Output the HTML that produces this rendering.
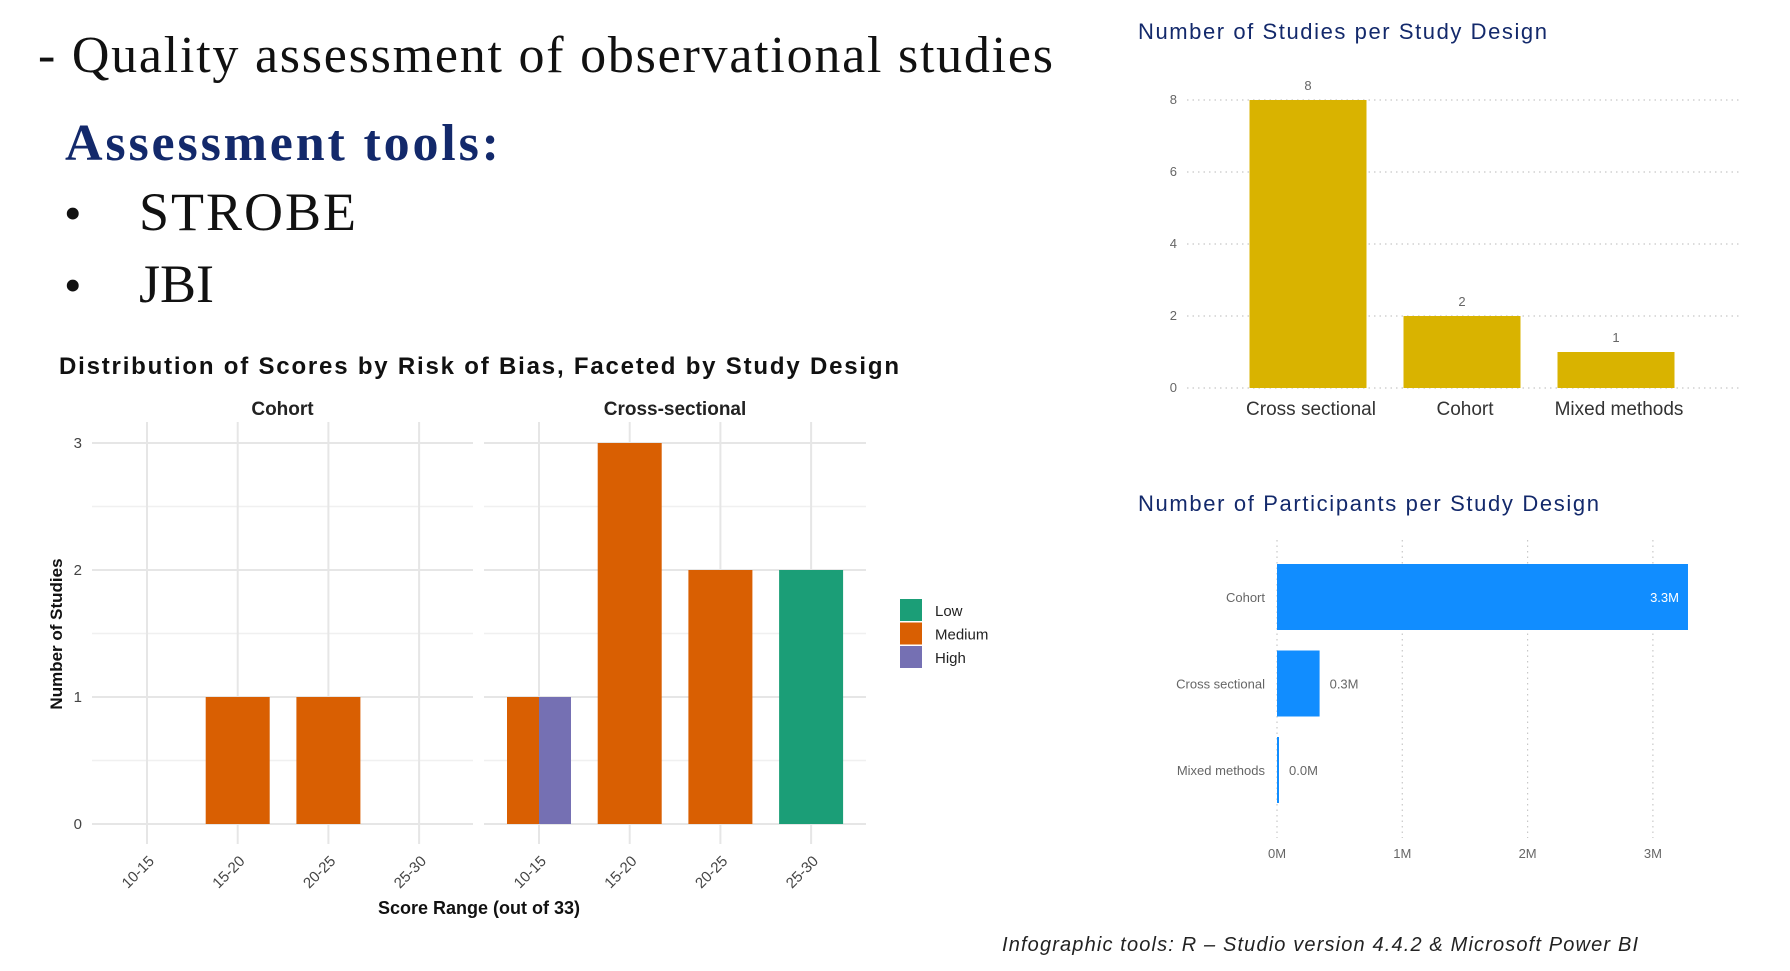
<!DOCTYPE html>
<html><head><meta charset="utf-8">
<style>
html,body{margin:0;padding:0;background:#fff;}
svg{display:block;}
.serif{font-family:"Liberation Serif",serif;}
.sans{font-family:"Liberation Sans",sans-serif;}
</style></head>
<body>
<svg id="root" width="1790" height="971" viewBox="0 0 1790 971" xmlns="http://www.w3.org/2000/svg">
  <text class="serif" x="38" y="72" font-size="52" fill="#111" textLength="1015">- Quality assessment of observational studies</text>
  <text class="serif" x="65" y="160" font-size="52" font-weight="bold" fill="#13296b" textLength="434">Assessment tools:</text>
  <text class="serif" x="64" y="230" font-size="50" fill="#111">•</text>
  <text class="serif" x="139" y="230" font-size="54" fill="#111" textLength="217">STROBE</text>
  <text class="serif" x="64" y="302" font-size="50" fill="#111">•</text>
  <text class="serif" x="139" y="302" font-size="54" fill="#111">JBI</text>

  <g id="facet"></g>
  <g id="studies"></g>
  <g id="parts"></g>

  <text class="sans" x="1002" y="951" font-size="20" font-style="italic" fill="#222" textLength="636">Infographic  tools: R – Studio version 4.4.2 &amp;  Microsoft Power BI</text>
</svg>
<script>
// ---- Facet chart data ----
const facetPanels = ["Cohort", "Cross-sectional"];
const scoreRanges = ["10-15", "15-20", "20-25", "25-30"];
const cohortMedium = [0, 1, 1, 0];
const crossLow = [0, 0, 0, 2];
const crossMedium = [1, 3, 2, 0];
const crossHigh = [1, 0, 0, 0];
const facetYTicks = [0, 1, 2, 3];
const riskLevels = ["Low", "Medium", "High"];

// ---- Studies per design ----
const designCats = ["Cross sectional", "Cohort", "Mixed methods"];
const studyCounts = [8, 2, 1];
const studyYTicks = [0, 2, 4, 6, 8];

// ---- Participants per design (millions) ----
const partCats = ["Cohort", "Cross sectional", "Mixed methods"];
const partValues = [3.28, 0.34, 0.01];
const partLabels = ["3.3M", "0.3M", "0.0M"];
const partXTicks = [0, 1, 2, 3];

const NS = "http://www.w3.org/2000/svg";
function mk(parent, tag, attrs, text) {
  const e = document.createElementNS(NS, tag);
  for (const k in attrs) e.setAttribute(k, attrs[k]);
  if (text !== undefined) e.textContent = text;
  parent.appendChild(e);
  return e;
}
const colors = {Low: "#1b9e77", Medium: "#d95f02", High: "#7570b3"};

// ---------- Facet chart ----------
(function () {
  const g = document.getElementById("facet");
  const t = mk(g, "text", {x: 59, y: 374, "font-size": 24, "font-weight": "bold", fill: "#111", class: "sans", textLength: 840}, "Distribution of Scores by Risk of Bias, Faceted by Study Design");
  
  
  const panelX = [[92, 473], [484, 866]];
  const y0 = 824, unit = 127, gridTop = 422;
  const yS = v => y0 - v * unit;
  const step = 90.7, bw = 64;
  panelX.forEach((px, p) => {
    const xC = i => px[0] + 55 + i * step;
    for (let v = 0.5; v <= 3; v += 1) {
      const l = mk(g, "line", {x1: px[0], x2: px[1], y1: yS(v), y2: yS(v), stroke: "#f0f0f0", "stroke-width": 1.5});
      
      
    }
    facetYTicks.forEach(v => {
      const l = mk(g, "line", {x1: px[0], x2: px[1], y1: yS(v), y2: yS(v), stroke: "#e6e6e6", "stroke-width": 2});
      
      
    });
    scoreRanges.forEach((r, i) => {
      const l = mk(g, "line", {x1: xC(i), x2: xC(i), y1: gridTop, y2: y0 + 20, stroke: "#e6e6e6", "stroke-width": 2});
      
      
      const tx = mk(g, "text", {x: xC(i) + 8, y: 862, "font-size": 15, fill: "#444", class: "sans", "text-anchor": "end", transform: `rotate(-45 ${xC(i) + 8} 862)`}, r);
      
      
    });
    const st = mk(g, "text", {x: (px[0] + px[1]) / 2, y: 415, "font-size": 19, "font-weight": "bold", fill: "#222", class: "sans", "text-anchor": "middle"}, facetPanels[p]);
    
    
    function bar(x, w, v, c, name) {
      if (!v) return;
      const b = mk(g, "rect", {x: x, y: yS(v), width: w, height: v * unit, fill: c});
      
      
    }
    scoreRanges.forEach((r, i) => {
      if (p === 0) {
        bar(xC(i) - bw / 2, bw, cohortMedium[i], colors.Medium, 'bar-cohort-medium');
      } else {
        const groups = [["Low", crossLow[i]], ["Medium", crossMedium[i]], ["High", crossHigh[i]]].filter(d => d[1] > 0);
        const w = bw / groups.length;
        groups.forEach((d, k) => bar(xC(i) - bw / 2 + k * w, w, d[1], colors[d[0]], 'bar-cross-' + d[0].toLowerCase()));
      }
    });
  });
  facetYTicks.forEach(v => {
    const tx = mk(g, "text", {x: 82, y: yS(v) + 5, "font-size": 15, fill: "#444", class: "sans", "text-anchor": "end"}, v);
    
    
  });
  const yt = mk(g, "text", {x: 62, y: 634, "font-size": 17, "font-weight": "bold", fill: "#111", class: "sans", "text-anchor": "middle", transform: "rotate(-90 62 634)"}, "Number of Studies");
  
  
  const xt = mk(g, "text", {x: 479, y: 914, "font-size": 18, "font-weight": "bold", fill: "#111", class: "sans", "text-anchor": "middle"}, "Score Range (out of 33)");
  
  
  riskLevels.forEach((lv, i) => {
    const r = mk(g, "rect", {x: 900, y: 599 + i * 23.5, width: 22, height: 22, fill: colors[lv]});
    
    
    const tx = mk(g, "text", {x: 935, y: 616 + i * 23.5, "font-size": 15, fill: "#222", class: "sans"}, lv);
    
    
  });
})();

// ---------- Studies per design ----------
(function () {
  const g = document.getElementById("studies");
  const t = mk(g, "text", {x: 1138, y: 39, "font-size": 22, fill: "#13296b", class: "sans", textLength: 409}, "Number of Studies per Study Design");
  
  
  const y0 = 388, unit = 36, x0 = 1187, x1 = 1740;
  const yS = v => y0 - v * unit;
  studyYTicks.forEach(v => {
    const l = mk(g, "line", {x1: x0, x2: x1, y1: yS(v), y2: yS(v), stroke: "#c8c8c8", "stroke-width": 1.2, "stroke-dasharray": "1.5 4"});
    
    
    const tx = mk(g, "text", {x: 1177, y: yS(v) + 4, "font-size": 13, fill: "#666", class: "sans", "text-anchor": "end"}, v);
    
    
  });
  const step = 154, bw = 117, c0 = 1308;
  designCats.forEach((c, i) => {
    const cx = c0 + i * step;
    const b = mk(g, "rect", {x: cx - bw / 2, y: yS(studyCounts[i]), width: bw, height: studyCounts[i] * unit, fill: "#d9b300"});
    
    
    const vl = mk(g, "text", {x: cx, y: yS(studyCounts[i]) - 10, "font-size": 13, fill: "#666", class: "sans", "text-anchor": "middle"}, studyCounts[i]);
    
    
    const cl = mk(g, "text", {x: cx + 3, y: 415, "font-size": 19, fill: "#333", class: "sans", "text-anchor": "middle"}, c);
    
    
  });
})();

// ---------- Participants per design ----------
(function () {
  const g = document.getElementById("parts");
  const t = mk(g, "text", {x: 1138, y: 511, "font-size": 22, fill: "#13296b", class: "sans", textLength: 461}, "Number of Participants  per Study Design");
  
  
  const x0 = 1277, unit = 125.3;
  const xS = v => x0 + v * unit;
  partXTicks.forEach(v => {
    const l = mk(g, "line", {x1: xS(v), x2: xS(v), y1: 540, y2: 838, stroke: "#c8c8c8", "stroke-width": 1.2, "stroke-dasharray": "1.5 4"});
    
    
    const tx = mk(g, "text", {x: xS(v), y: 858, "font-size": 13, fill: "#666", class: "sans", "text-anchor": "middle"}, v + "M");
    
    
  });
  const bandTop = 564, band = 86.5, bh = 66;
  partCats.forEach((c, i) => {
    const y = bandTop + i * band;
    const w = Math.max(2, partValues[i] * unit);
    const b = mk(g, "rect", {x: x0, y: y, width: w, height: bh, fill: "#118dff"});
    
    
    const cl = mk(g, "text", {x: 1265, y: y + bh / 2 + 5, "font-size": 13, fill: "#666", class: "sans", "text-anchor": "end"}, c);
    
    
    const inside = w > 100;
    const vl = mk(g, "text", {x: inside ? x0 + w - 9 : x0 + w + 10, y: y + bh / 2 + 5, "font-size": 13, fill: inside ? "#ffffff" : "#666", class: "sans", "text-anchor": inside ? "end" : "start"}, partLabels[i]);
    
    
  });
})();
</script>
</body></html>
